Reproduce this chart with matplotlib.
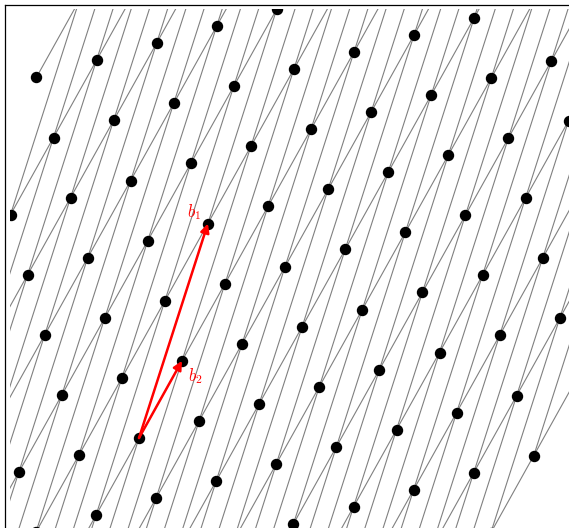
import matplotlib

matplotlib.use("Agg")
import matplotlib.pyplot as plt
import numpy as np
from matplotlib.collections import LineCollection
from matplotlib.lines import Line2D

plt.rcParams["mathtext.fontset"] = "cm"

# lattice basis in pixel units (y up), origin at the foot of the arrows
b1 = np.array([68.9, 214.5])
b2 = np.array([43.0, 77.2])
basis_labels = ["$b_1$", "$b_2$"]
label_pos = [(55, 226), (56, 62)]

# drawn patch of the lattice: p = s*b2 + t*(b1 - b2)
s_range = (-6, 22)
t_range = (-8, 6)

xlim = (-129.5, 430)
ylim = (-90, 429)


def lattice_point(s, t):
    return s * b2 + t * (b1 - b2)


fig = plt.figure(figsize=(5.69, 5.28), dpi=100)
W, H = 569, 528
ax = fig.add_axes([9.5 / W, 0, (W - 9.5) / W, (H - 9) / H])
ax.set_xlim(*xlim)
ax.set_ylim(*ylim)
ax.set_aspect("equal")
ax.axis("off")

# gray segments along b1 and b2 between neighbouring points
segs = []
pts = []
for s in range(s_range[0], s_range[1] + 1):
    for t in range(t_range[0], t_range[1] + 1):
        p = lattice_point(s, t)
        pts.append(p)
        if s + 1 <= s_range[1]:
            segs.append([p, lattice_point(s + 1, t)])  # +b2
            if t + 1 <= t_range[1]:
                segs.append([p, lattice_point(s + 1, t + 1)])  # +b1
pts = np.array(pts)

ax.add_collection(LineCollection(segs, colors="#808080", linewidths=0.8, zorder=1))
ax.plot(pts[:, 0], pts[:, 1], "o", color="black", ms=7.2, zorder=2)

# basis vectors
for vec, lab, pos in zip([b1, b2], basis_labels, label_pos):
    ax.annotate(
        "",
        xy=vec,
        xytext=(0, 0),
        arrowprops=dict(
            arrowstyle="-|>", color="red", lw=1.8, mutation_scale=13,
            shrinkA=0, shrinkB=0,
        ),
        zorder=4,
    )
    ax.text(*pos, lab, color="red", fontsize=12, ha="center", va="center", zorder=5)

# outer frame (left and top edges only show)
fig.add_artist(Line2D([5 / W, 5 / W], [0, 1 - 5 / H], color="black", lw=0.9))
fig.add_artist(Line2D([5 / W, 1], [1 - 5 / H, 1 - 5 / H], color="black", lw=0.9))

plt.savefig("out.png", dpi=100)
